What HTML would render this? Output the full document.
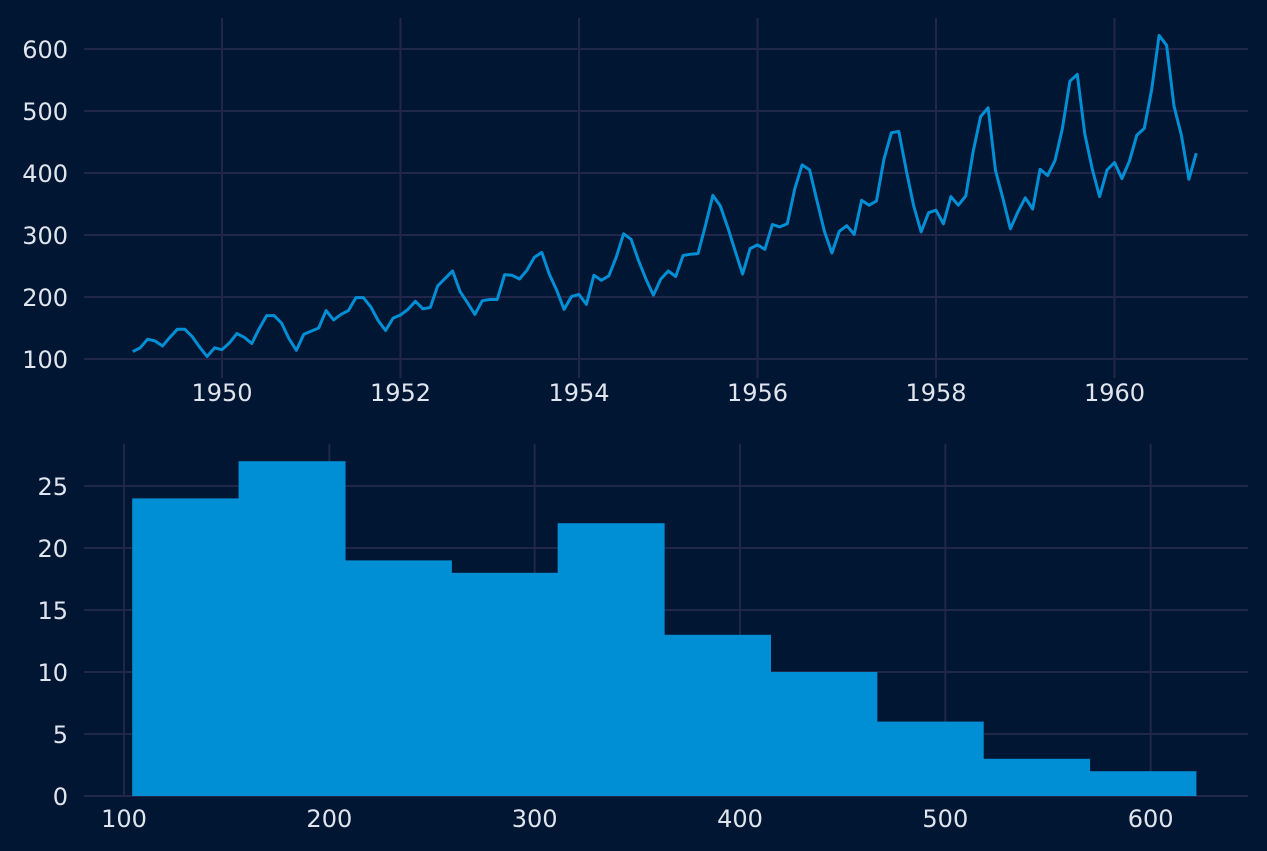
<!DOCTYPE html>
<html><head><meta charset="utf-8">
<style>
html,body{margin:0;padding:0;background:#001633;}
svg{display:block;}
text{font-family:"DejaVu Sans","Liberation Sans",sans-serif;font-size:24px;fill:#e0e4ec;}
</style></head>
<body>
<svg id="s" width="1267" height="851" viewBox="0 0 1267 851" xmlns="http://www.w3.org/2000/svg">
<rect width="1267" height="851" fill="#001633"/>
</svg>
<script>
var d=[112,118,132,129,121,135,148,148,136,119,104,118,
115,126,141,135,125,149,170,170,158,133,114,140,
145,150,178,163,172,178,199,199,184,162,146,166,
171,180,193,181,183,218,230,242,209,191,172,194,
196,196,236,235,229,243,264,272,237,211,180,201,
204,188,235,227,234,264,302,293,259,229,203,229,
242,233,267,269,270,315,364,347,312,274,237,278,
284,277,317,313,318,374,413,405,355,306,271,306,
315,301,356,348,355,422,465,467,404,347,305,336,
340,318,362,348,363,435,491,505,404,359,310,337,
360,342,406,396,420,472,548,559,463,407,362,405,
417,391,419,461,472,535,622,606,508,461,390,432];
var h='';var G='#22264a';
for(var v=100;v<=600;v+=100){var y=359-0.62*(v-100);
h+='<line x1="84" x2="1248" y1="'+y+'" y2="'+y+'" stroke="'+G+'" stroke-width="2"/>';
h+='<text x="68" y="'+(y+9)+'" text-anchor="end">'+v+'</text>';}
for(var yr=1950;yr<=1960;yr+=2){var x=222+(yr-1950)*89.25;
h+='<line x1="'+x+'" x2="'+x+'" y1="18" y2="378" stroke="'+G+'" stroke-width="2"/>';
h+='<text x="'+x+'" y="401" text-anchor="middle">'+yr+'</text>';}
var p=[];for(var i=0;i<d.length;i++){p.push((132.75+i*89.25/12).toFixed(1)+','+(359-0.62*(d[i]-100)).toFixed(1));}
h+='<polyline points="'+p.join(' ')+'" fill="none" stroke="#008fd5" stroke-width="3" stroke-linejoin="round"/>';
function X(v){return 124+(v-100)*2.0533;}
function Y(c){return 796-12.4*c;}
for(var c=0;c<=25;c+=5){var y=Y(c);
h+='<line x1="84" x2="1248" y1="'+y+'" y2="'+y+'" stroke="'+G+'" stroke-width="2"/>';
h+='<text x="68" y="'+(y+9)+'" text-anchor="end">'+c+'</text>';}
for(var v=100;v<=600;v+=100){var x=X(v);
h+='<line x1="'+x+'" x2="'+x+'" y1="444" y2="796" stroke="'+G+'" stroke-width="2"/>';
h+='<text x="'+x+'" y="827" text-anchor="middle">'+v+'</text>';}
var cnt=[24,27,19,18,22,13,10,6,3,2];var w=(622-104)/10;
for(var i=0;i<10;i++){var x0=X(104+i*w),x1=X(104+(i+1)*w);
h+='<rect x="'+x0.toFixed(2)+'" y="'+Y(cnt[i])+'" width="'+(x1-x0+0.6).toFixed(2)+'" height="'+(12.4*cnt[i])+'" fill="#008fd5"/>';}
document.getElementById('s').innerHTML+=h;
</script>
</body></html>
